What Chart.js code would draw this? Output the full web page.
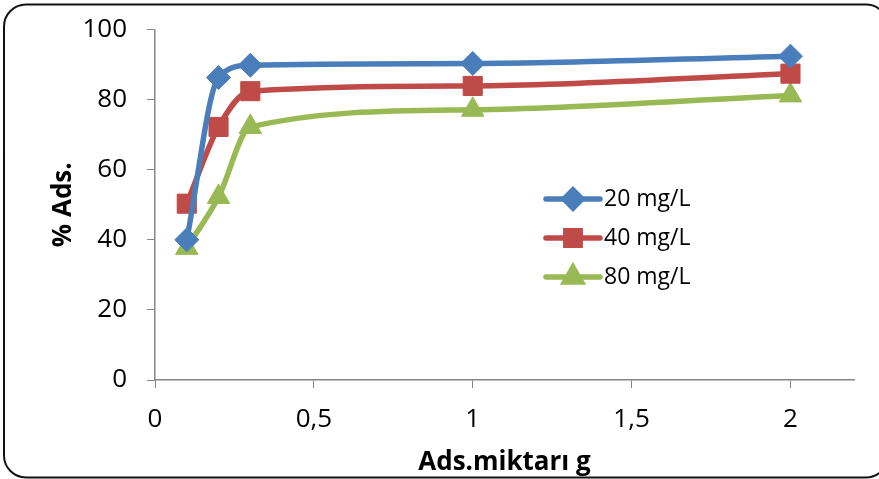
<!DOCTYPE html>
<html>
<head>
<meta charset="utf-8">
<script src="https://cdn.jsdelivr.net/npm/chart.js@4.4.1/dist/chart.umd.min.js"></script>
<style>
  html, body { margin: 0; padding: 0; background: #ffffff; }
  #wrap { width: 879px; height: 479px; position: relative; }
</style>
</head>
<body>
<div id="wrap"><canvas id="c" width="879" height="479"></canvas></div>
<script>
// Adsorbent amount (g)
const dose = [0.1, 0.2, 0.3, 1, 2];
// % adsorption for each initial concentration
const ads20 = [40.0, 86.3, 89.8, 90.3, 92.4];
const ads40 = [50.3, 72.2, 82.4, 83.9, 87.4];
const ads80 = [37.7, 52.2, 72.2, 77.1, 81.2];
const seriesNames = ['20 mg/L', '40 mg/L', '80 mg/L'];
const xTickValues = [0, 0.5, 1, 1.5, 2];
const yTickValues = [0, 20, 40, 60, 80, 100];

const FONT = '"Open Sans", Lato, "DejaVu Sans", sans-serif';
const AXIS = '#868686';

const toPoints = ys => dose.map((x, i) => ({ x: x, y: ys[i] }));

function makeSet(label, ys, color, style, radius) {
  return {
    label: label,
    data: toPoints(ys),
    borderColor: color,
    backgroundColor: color,
    borderWidth: 5.5,
    cubicInterpolationMode: 'monotone',
    clip: false,
    pointStyle: style,
    pointRadius: radius,
    pointHoverRadius: radius,
    pointBackgroundColor: color,
    pointBorderColor: color,
    pointBorderWidth: 1
  };
}

// Rounded frame around the whole chart
const framePlugin = {
  id: 'frame',
  afterDraw(chart) {
    const ctx = chart.ctx;
    ctx.save();
    ctx.strokeStyle = '#111111';
    ctx.lineWidth = 2;
    ctx.beginPath();
    ctx.roundRect(4, 4.5, 884, 473, 22);
    ctx.stroke();
    ctx.restore();
  }
};

// Legend drawn as line sample + marker + label
const legendPlugin = {
  id: 'lineLegend',
  afterDatasetsDraw(chart) {
    const ctx = chart.ctx;
    const x0 = 546, x1 = 600, rows = [199, 238, 277];
    ctx.save();
    chart.data.datasets.forEach((ds, i) => {
      const y = rows[i];
      ctx.strokeStyle = ds.borderColor;
      ctx.lineWidth = 5.5;
      ctx.lineCap = 'round';
      ctx.beginPath();
      ctx.moveTo(x0, y);
      ctx.lineTo(x1, y);
      ctx.stroke();
      ctx.fillStyle = ds.borderColor;
      Chart.helpers.drawPoint(ctx, {
        pointStyle: ds.pointStyle,
        radius: ds.pointRadius * 0.75,
        borderWidth: 1,
        rotation: 0
      }, (x0 + x1) / 2, y);
      ctx.fillStyle = '#000000';
      ctx.font = '23px ' + FONT;
      ctx.textAlign = 'left';
      ctx.textBaseline = 'middle';
      ctx.fillText(ds.label, 604, y);
    });
    ctx.restore();
  }
};

new Chart(document.getElementById('c'), {
  type: 'line',
  data: {
    datasets: [
      makeSet(seriesNames[0], ads20, '#4A7EBB', 'rectRot', 12),
      makeSet(seriesNames[1], ads40, '#BE4B48', 'rect', 13.5),
      makeSet(seriesNames[2], ads80, '#98B954', 'triangle', 13)
    ]
  },
  options: {
    responsive: false,
    animation: false,
    events: [],
    layout: { autoPadding: false, padding: { top: 29.5, right: 25, bottom: 0, left: 0 } },
    plugins: { legend: { display: false }, tooltip: { enabled: false } },
    scales: {
      x: {
        type: 'linear',
        min: 0,
        max: 2.2,
        afterBuildTicks(scale) { scale.ticks = xTickValues.map(v => ({ value: v })); },
        afterFit(scale) { scale.height = 99; },
        grid: { drawOnChartArea: false, drawTicks: true, tickLength: 8, color: AXIS },
        border: { color: AXIS, width: 1.5 },
        ticks: {
          padding: 16,
          color: '#000000',
          font: { family: FONT, size: 26 },
          callback: v => String(v).replace('.', ',')
        },
        title: {
          display: true,
          text: 'Ads.miktarı g',
          color: '#000000',
          font: { family: FONT, size: 26, weight: 'bold' },
          padding: { top: 0, bottom: 1 }
        }
      },
      y: {
        min: 0,
        max: 100,
        afterBuildTicks(scale) { scale.ticks = yTickValues.map(v => ({ value: v })); },
        afterFit(scale) {
          scale.width = 155;
          scale.paddingTop = 0;
          scale.paddingBottom = 0;
        },
        grid: { drawOnChartArea: false, drawTicks: true, tickLength: 8, color: AXIS },
        border: { color: AXIS, width: 1.5 },
        ticks: {
          padding: 20,
          color: '#000000',
          font: { family: FONT, size: 26 }
        },
        title: {
          display: true,
          text: '% Ads.',
          color: '#000000',
          font: { family: FONT, size: 26, weight: 'bold' },
          padding: { top: 48, bottom: 0 }
        }
      }
    }
  },
  plugins: [framePlugin, legendPlugin]
});
</script>
</body>
</html>
